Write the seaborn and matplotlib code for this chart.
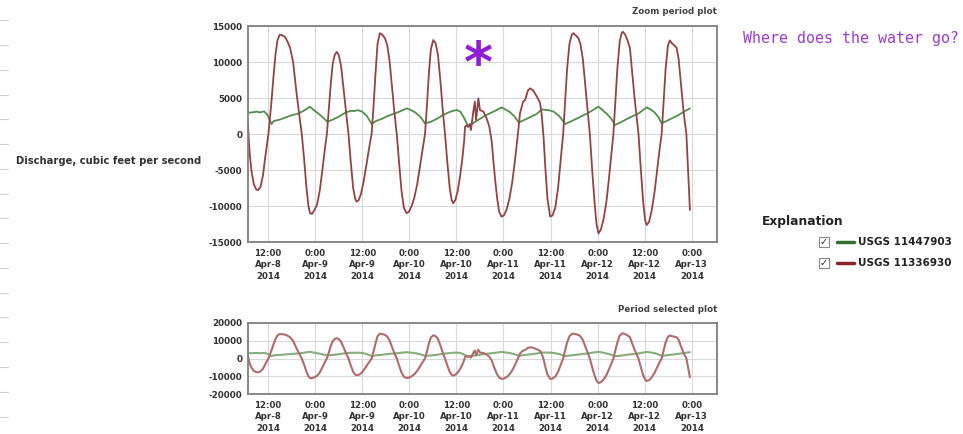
import matplotlib
matplotlib.use("Agg")
import matplotlib.pyplot as plt
import numpy as np
import pandas as pd
import seaborn as sns
from matplotlib.lines import Line2D
from matplotlib.patches import Rectangle

# ---------------- data (hours after 2014-04-08 00:00) ----------------
red_hours = [6.9, 7.0, 7.3, 7.8, 8.4, 9.0, 9.5, 10.1, 10.7, 11.3, 12.1, 12.8, 13.4, 13.9, 14.4,
             15.0, 15.6, 16.3, 17.0, 17.6, 18.4, 19.2, 20.0, 20.6, 21.2, 21.8, 22.3, 22.7, 23.2,
             23.8, 24.5, 25.2, 25.9, 26.5, 27.0, 27.5, 28.0, 28.5, 29.0, 29.5, 30.0, 30.6, 31.2,
             31.9, 32.5, 33.1, 33.7, 34.2, 34.6, 35.1, 35.7, 36.4, 37.1, 37.8, 38.4, 38.9, 39.4,
             39.9, 40.5, 41.1, 41.8, 42.4, 43.0, 43.6, 44.2, 44.8, 45.4, 46.0, 46.6, 47.3, 47.9,
             48.6, 49.3, 50.0, 50.8, 51.4, 52.0, 52.5, 53.0, 53.5, 54.1, 54.7, 55.3, 55.9, 56.5,
             57.1, 57.7, 58.3, 58.8, 59.2, 59.7, 60.3, 60.9, 61.5, 62.0, 62.2, 62.6, 63.0, 63.4,
             63.7, 64.3, 64.7, 65.0, 65.6, 66.0, 66.9, 67.7, 68.4, 69.0, 69.4, 69.9, 70.4, 70.9,
             71.5, 72.1, 72.8, 73.5, 74.2, 74.9, 75.6, 76.2, 77.0, 77.5, 78.2, 78.8, 79.6, 80.5,
             81.3, 81.7, 82.2, 82.7, 83.2, 83.9, 84.5, 85.2, 85.9, 86.6, 87.2, 87.7, 88.2, 88.8,
             89.4, 89.8, 90.4, 91.1, 91.6, 92.2, 92.8, 93.4, 94.0, 94.6, 95.2, 95.7, 96.2, 96.8,
             97.5, 98.2, 98.9, 99.5, 100.0, 100.5, 101.0, 101.6, 102.1, 102.4, 103.0, 103.6,
             104.2, 104.8, 105.4, 106.0, 106.4, 107.0, 107.6, 108.1, 108.5, 109.1, 109.8, 110.5,
             111.2, 111.8, 112.3, 112.8, 113.3, 113.9, 114.4, 114.9, 115.5, 116.1, 116.6, 117.2,
             117.9, 118.6, 119.1, 119.5]
red_values = [1500, 200, -2500, -5200, -7000, -7700, -7800, -7300, -5800, -3200, 0, 4000, 8000,
              11000, 13000, 13800, 13700, 13500, 12800, 12000, 10000, 6000, 2500, 0, -3500, -7500,
              -10000, -11000, -11100, -10600, -9800, -7800, -4800, -2000, 0, 3500, 7000, 9800,
              11000, 11400, 11000, 9500, 6500, 3000, 0, -4000, -7500, -9000, -9400, -9200, -8300,
              -6500, -4200, -1800, 0, 4000, 8500, 12500, 14000, 13800, 13300, 12300, 10000, 6500,
              3000, 0, -4000, -7800, -10200, -11000, -10800, -10000, -8800, -7000, -4200, -2000,
              0, 4000, 8500, 11800, 13050, 12600, 11000, 7500, 3500, 0, -4000, -7500, -9200,
              -9630, -9200, -8000, -6000, -3500, -800, 1000, 1200, 1000, 1400, 550, 3100, 4480,
              1940, 4950, 3330, 3100, 2180, 1000, -1070, -3600, -6500, -9000, -10800, -11480,
              -11300, -10500, -9000, -6800, -3800, -370, 2870, 4490, 4700, 6020, 6340, 6020, 5190,
              4350, 2870, -370, -5000, -9000, -11480, -11300, -10200, -7500, -3500, 0, 4500, 9000,
              12500, 13800, 14000, 13700, 13300, 12500, 10500, 7000, 3500, 0, -5000, -9500,
              -12500, -13800, -13300, -11800, -9500, -6000, -2800, 0, 4500, 9000, 12800, 14000,
              14200, 13800, 13000, 12000, 8500, 5000, 2000, 0, -5000, -9500, -12000, -12640,
              -12200, -10500, -8000, -4800, -2000, 0, 4500, 9000, 12300, 13000, 12600, 12300,
              12000, 10500, 7000, 3000, 0, -6000, -10560]

green_hours = [6.9, 8.0, 9.0, 10.0, 11.0, 11.8, 12.9, 13.5, 15.0, 16.5, 18.0, 19.5, 21.0, 22.7,
               23.7, 24.7, 25.8, 27.1, 28.5, 30.0, 31.5, 32.9, 34.0, 35.0, 36.0, 37.2, 38.4,
               39.5, 41.0, 42.5, 44.0, 45.5, 47.3, 48.5, 49.5, 50.8, 52.0, 53.5, 55.0, 56.5,
               58.0, 59.0, 60.1, 61.0, 62.0, 63.0, 64.5, 66.0, 67.5, 69.0, 70.2, 71.5, 72.5,
               73.5, 74.7, 75.9, 77.5, 79.0, 80.5, 81.7, 82.6, 83.6, 84.8, 86.2, 87.7, 89.0,
               90.5, 92.0, 93.5, 95.0, 96.2, 97.3, 98.5, 99.5, 100.4, 101.8, 103.5, 105.0,
               106.5, 107.5, 108.5, 109.5, 110.5, 111.4, 112.3, 113.5, 115.0, 116.5, 118.0, 119.5]
green_values = [2960, 3000, 3100, 3000, 3150, 2700, 1390, 1800, 2000, 2300, 2600, 2800, 3200,
                3800, 3300, 2900, 2400, 1710, 2000, 2400, 2900, 3200, 3200, 3300, 3100, 2500,
                1390, 1800, 2100, 2500, 2800, 3100, 3560, 3300, 3000, 2400, 1480, 1700, 2100,
                2600, 3000, 3200, 3330, 3100, 2200, 1050, 1600, 2100, 2600, 3000, 3300, 3700,
                3400, 3100, 2500, 1600, 2000, 2400, 2800, 3400, 3350, 3300, 3100, 2500, 1390,
                1700, 2100, 2500, 2900, 3400, 3800, 3300, 2700, 2100, 1250, 1600, 2100, 2500,
                2900, 3300, 3700, 3400, 3000, 2400, 1480, 1800, 2200, 2600, 3100, 3560]

site_names = ["USGS 11447903", "USGS 11336930"]
tick_hours = [12, 24, 36, 48, 60, 72, 84, 96, 108, 120]
tick_labels = ["12:00\nApr-8\n2014", "0:00\nApr-9\n2014", "12:00\nApr-9\n2014",
               "0:00\nApr-10\n2014", "12:00\nApr-10\n2014", "0:00\nApr-11\n2014",
               "12:00\nApr-11\n2014", "0:00\nApr-12\n2014", "12:00\nApr-12\n2014",
               "0:00\nApr-13\n2014"]
main_yticks = [-15000, -10000, -5000, 0, 5000, 10000, 15000]
sel_yticks = [-20000, -10000, 0, 10000, 20000]

# ---------------- build frame ----------------
start = pd.Timestamp("2014-04-08 00:00")
df = pd.concat([
    pd.DataFrame({"time": start + pd.to_timedelta(green_hours, unit="h"),
                  "discharge": green_values, "site": site_names[0]}),
    pd.DataFrame({"time": start + pd.to_timedelta(red_hours, unit="h"),
                  "discharge": red_values, "site": site_names[1]}),
], ignore_index=True)

sns.set_style("white")
plt.rcParams["font.family"] = ["DejaVu Sans"]

W, H = 963, 434
fig = plt.figure(figsize=(W / 100, H / 100), dpi=100)
fig.patch.set_facecolor("white")

def fx(px):
    return px / W

def fy(py):
    return 1 - py / H

ax_main = fig.add_axes([fx(248), fy(242), fx(717) - fx(248), fy(26) - fy(242)])
ax_sel = fig.add_axes([fx(248), fy(394), fx(717) - fx(248), fy(323) - fy(394)])

xlim = (start + pd.Timedelta(hours=6.9), start + pd.Timedelta(hours=126.4))
tick_pos = [start + pd.Timedelta(hours=h) for h in tick_hours]
label_color = "#333333"

for ax, pal, lw, yt, ylim in [
    (ax_main, {site_names[0]: "#548e4e", site_names[1]: "#924444"}, 1.3, main_yticks, (-15000, 15000)),
    (ax_sel, {site_names[0]: "#86ad7c", site_names[1]: "#b06c6c"}, 1.5, sel_yticks, (-20000, 20000)),
]:
    sns.lineplot(data=df, x="time", y="discharge", hue="site", palette=pal, ax=ax,
                 legend=False, linewidth=lw, estimator=None, sort=False)
    ax.set_xlim(*xlim)
    ax.set_ylim(*ylim)
    ax.set_xticks(tick_pos)
    ax.set_xticklabels(tick_labels, fontsize=6.2, fontweight="bold", color=label_color,
                       linespacing=1.35)
    ax.set_yticks(yt)
    ax.set_yticklabels([str(v) for v in yt], fontsize=6.3, fontweight="bold", color=label_color)
    ax.tick_params(axis="both", length=0, pad=4)
    ax.tick_params(axis="x", pad=5)
    ax.grid(True, color="#d9d9d9", linewidth=0.8)
    ax.set_axisbelow(True)
    ax.set_xlabel("")
    ax.set_ylabel("")
    for sp in ax.spines.values():
        sp.set_visible(True)
        sp.set_color("#808080")
        sp.set_linewidth(1.3)

# titles
fig.text(fx(717), fy(12), "Zoom period plot", ha="right", va="center", fontsize=6.3,
         fontweight="bold", color="#444444")
fig.text(fx(717), fy(309), "Period selected plot", ha="right", va="center", fontsize=6.3,
         fontweight="bold", color="#444444")

# y label (horizontal)
fig.text(fx(16), fy(161), "Discharge, cubic feet per second", ha="left", va="center",
         fontsize=7.2, fontweight="bold", color=label_color)

# annotation
fig.text(fx(743), fy(38), "Where does the water go?", ha="left", va="center", fontsize=10.8,
         family="DejaVu Sans Mono", color="#9a3dd1")
fig.text(fx(478), fy(66), "*", ha="center", va="center", fontsize=40, fontweight="bold",
         color="#8e1fd4")

# faint ruler dashes on the left edge
for yy in [20, 45, 70, 95, 119, 144, 169, 194, 218, 243, 268, 293, 317, 342, 367, 392, 417]:
    fig.lines.append(Line2D([0, fx(8)], [fy(yy), fy(yy)], transform=fig.transFigure,
                            color="#cfcfcf", linewidth=0.8))

# explanation legend
fig.text(fx(762), fy(222), "Explanation", ha="left", va="center", fontsize=8.8,
         fontweight="bold", color="#222222")
row_y = [242, 263]
row_colors = ["#2f6f2f", "#8b2323"]
for yy, col, name in zip(row_y, row_colors, site_names):
    fig.patches.append(Rectangle((fx(819), fy(yy + 5)), fx(10), fy(yy - 5) - fy(yy + 5),
                                 transform=fig.transFigure, facecolor="white",
                                 edgecolor="#888888", linewidth=0.8))
    fig.text(fx(824), fy(yy), "\u2713", ha="center", va="center", fontsize=7,
             color="#222222")
    fig.lines.append(Line2D([fx(837), fx(854)], [fy(yy), fy(yy)], transform=fig.transFigure,
                            color=col, linewidth=2.5))
    fig.text(fx(858), fy(yy), name, ha="left", va="center", fontsize=7.5,
             fontweight="bold", color="#222222")

fig.savefig("out.png", dpi=100, facecolor="white")
